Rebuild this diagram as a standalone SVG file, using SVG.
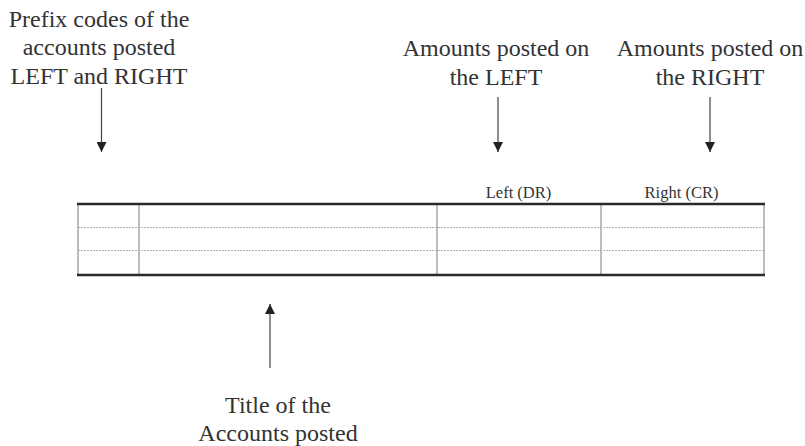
<svg xmlns="http://www.w3.org/2000/svg" width="805" height="446" viewBox="0 0 805 446">
<defs>
<marker id="ah" viewBox="0 0 10 10" refX="10" refY="5" markerWidth="10" markerHeight="10" markerUnits="userSpaceOnUse" orient="auto">
<path d="M0,0 L10,5 L0,10 Z" fill="#222"/>
</marker>
</defs>
<style>
.lbl{font-size:24px}
.hd{font-size:16.5px}
.arr{stroke:#444;stroke-width:1.2;fill:none;marker-end:url(#ah)}
.thick{stroke:#2a2a2a;stroke-width:2.5}
.row{stroke:#b0b0b0;stroke-width:1;stroke-dasharray:2 1}
.col{stroke:#999;stroke-width:1.3}
</style>
<rect width="805" height="446" fill="#fff"/>
<g font-family="'Liberation Serif', 'DejaVu Serif', serif" fill="#333" text-anchor="middle">
<g id="table">
<line class="col" x1="78" y1="204" x2="78" y2="275"/>
<line class="col" x1="139" y1="204" x2="139" y2="275"/>
<line class="col" x1="437" y1="204" x2="437" y2="275"/>
<line class="col" x1="601" y1="204" x2="601" y2="275"/>
<line class="col" x1="764" y1="204" x2="764" y2="275"/>
<line class="row" x1="78" y1="227.5" x2="764" y2="227.5"/>
<line class="row" x1="78" y1="250.5" x2="764" y2="250.5"/>
<line class="thick" x1="77" y1="204" x2="765" y2="204"/>
<line class="thick" x1="77" y1="275" x2="765" y2="275"/>
<text class="hd" x="518.5" y="198">Left (DR)</text>
<text class="hd" x="681.5" y="198">Right (CR)</text>
</g>
<g id="prefix">
<text class="lbl" x="99" y="27">Prefix codes of  the</text>
<text class="lbl" x="99" y="55">accounts posted</text>
<text class="lbl" x="99" y="84">LEFT and RIGHT</text>
</g>
<g id="left-amounts">
<text class="lbl" x="496" y="56">Amounts posted on</text>
<text class="lbl" x="496" y="85">the LEFT</text>
</g>
<g id="right-amounts">
<text class="lbl" x="710" y="56">Amounts posted on</text>
<text class="lbl" x="710" y="85">the RIGHT</text>
</g>
<g id="title">
<text class="lbl" x="278" y="413">Title of  the</text>
<text class="lbl" x="278" y="441">Accounts posted</text>
</g>
</g>
<g id="connectors">
<line class="arr" x1="101.5" y1="88" x2="101.5" y2="152"/>
<line class="arr" x1="498" y1="97" x2="498" y2="152"/>
<line class="arr" x1="710" y1="97" x2="710" y2="152"/>
<line class="arr" x1="270" y1="368" x2="270" y2="304"/>
</g>
</svg>
